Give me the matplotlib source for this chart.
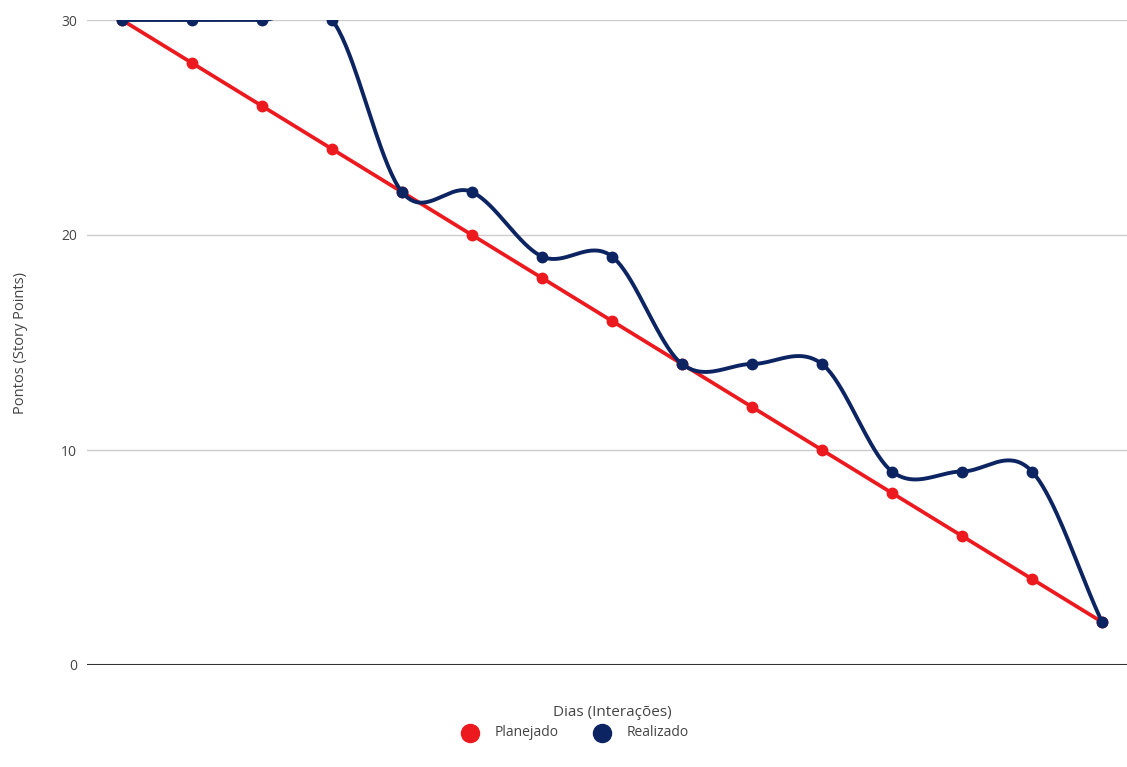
import numpy as np
import matplotlib
matplotlib.use("Agg")
import matplotlib.pyplot as plt
from matplotlib.lines import Line2D

plt.rcParams['font.family'] = ['Open Sans', 'DejaVu Sans']

dias = list(range(1, 16))
planejado = [30, 28, 26, 24, 22, 20, 18, 16, 14, 12, 10, 8, 6, 4, 2]
realizado = [30, 30, 30, 30, 22, 22, 19, 19, 14, 14, 14, 9, 9, 9, 2]

COR_PLAN = '#ec1a1f'
COR_REAL = '#0c2461'
COR_TEXTO = '#444444'
W, H = 1127, 767


def suavizar(x, y, passos=40):
    # Catmull-Rom style curve through every point
    x = np.asarray(x, float)
    y = np.asarray(y, float)
    n = len(y)
    m = np.zeros(n)
    m[1:-1] = (y[2:] - y[:-2]) / 2
    m[0] = y[1] - y[0]
    m[-1] = y[-1] - y[-2]
    xs, ys = [], []
    for i in range(n - 1):
        s = np.linspace(0, 1, passos, endpoint=(i == n - 2))
        h00 = 2 * s**3 - 3 * s**2 + 1
        h10 = s**3 - 2 * s**2 + s
        h01 = -2 * s**3 + 3 * s**2
        h11 = s**3 - s**2
        ys.append(h00 * y[i] + h10 * m[i] + h01 * y[i + 1] + h11 * m[i + 1])
        xs.append(x[i] + s * (x[i + 1] - x[i]))
    return np.concatenate(xs), np.concatenate(ys)


fig = plt.figure(figsize=(W / 100, H / 100), dpi=100)
ax = fig.add_axes([87 / W, 102 / H, 1050 / W, 645 / H])

ax.set_xlim(dias[0] - 0.5, dias[-1] + 0.5)
ax.set_ylim(0, 30)
ax.set_yticks([0, 10, 20, 30])
ax.set_xticks([])

for v in [10, 20, 30]:
    ax.axhline(v, color='#cccccc', lw=1, zorder=0)
ax.axhline(0, color='#333333', lw=1.5, zorder=1)

ax.plot(dias, planejado, color=COR_PLAN, lw=2.7, marker='o', ms=7.5,
        zorder=3, solid_capstyle='round')

xs, ys = suavizar(dias, realizado)
ax.plot(xs, ys, color=COR_REAL, lw=2.8, zorder=4, solid_capstyle='round')
ax.plot(dias, realizado, 'o', color=COR_REAL, ms=7.5, zorder=5)

for s in ax.spines.values():
    s.set_visible(False)
ax.tick_params(axis='y', length=0, pad=7, labelsize=10, labelcolor=COR_TEXTO)

ax.set_ylabel('Pontos (Story Points)', fontsize=10.5, color=COR_TEXTO, labelpad=24)
fig.text(612 / W, 1 - 712 / H, 'Dias (Interações)', fontsize=11,
         color=COR_TEXTO, ha='center', va='center')

# legend drawn by hand: circle + label for each series
legenda = [('Planejado', COR_PLAN, 470), ('Realizado', COR_REAL, 602)]
for nome, cor, px in legenda:
    y = 1 - 733 / H
    fig.add_artist(Line2D([px / W], [y], ls='none', marker='o', ms=13,
                          color=cor, transform=fig.transFigure))
    fig.text((px + 25) / W, y, nome, fontsize=10, color=COR_TEXTO,
             ha='left', va='center')

fig.savefig('out.png', dpi=100, facecolor='white')
